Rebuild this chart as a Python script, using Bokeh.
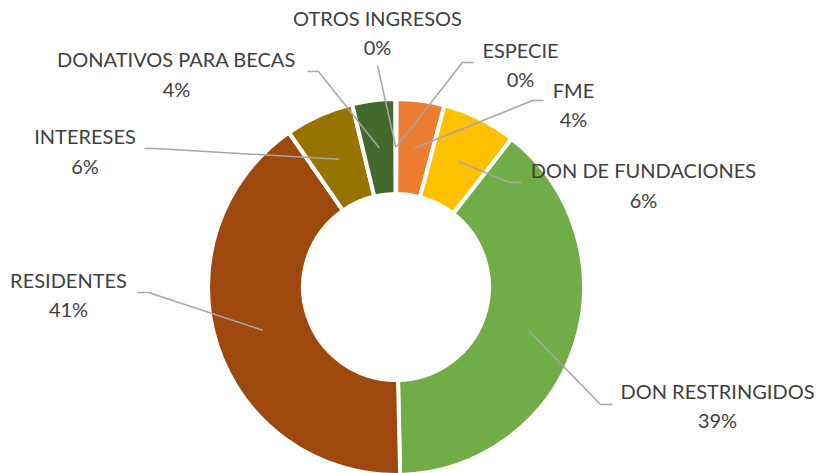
import math
from bokeh.plotting import figure
from bokeh.models import ColumnDataSource, Range1d
from bokeh.embed import file_html
from bokeh.resources import INLINE
from bokeh.core.properties import value

# ---- data ----
categories = ["ESPECIE", "FME", "DON DE FUNDACIONES", "DON RESTRINGIDOS",
              "RESIDENTES", "INTERESES", "DONATIVOS PARA BECAS", "OTROS INGRESOS"]
shares = [0.05, 4.1, 6.4, 39.1, 40.7, 5.9, 3.7, 0.05]
colors = ["#5B9BD5", "#ED7D31", "#FFC000", "#70AD47",
          "#9E480E", "#997300", "#43682B", "#F4B183"]

# ---- layout (pixel coordinates, y measured from top) ----
W, H = 818, 473
CX, CY = 395.5, 286.5
R_OUT, R_IN = 188, 93
R_LEAD = 140
# label centre (x, first-line y), leader start and elbow
label_pos = [(520, 49), (573, 89), (643, 169.5), (717, 390),
             (68, 279), (84.5, 135.5), (176, 58.5), (377, 17)]
leader_start = [(473, 62), (543, 100), (521, 182), (612, 404),
                (137, 292), (144, 148), (307, 71), (377, 65)]
leader_elbow = [(462, 62), (532, 100), (509, 182), (600, 404),
                (148, 292), (155, 148), (318, 71), (377, 65)]
LINE_GAP = 29.5

total = sum(shares)
starts, ends, mids = [], [], []
acc = 0.0
for v in shares:
    a0 = acc / total * 360.0
    acc += v
    a1 = acc / total * 360.0
    starts.append(math.radians(90 - a0))
    ends.append(math.radians(90 - a1))
    mids.append((a0 + a1) / 2)

src = ColumnDataSource(dict(x=[CX] * len(shares), y=[H - CY] * len(shares),
                            start=starts, end=ends, color=colors))

p = figure(width=W, height=H, output_backend="svg", toolbar_location=None,
           x_range=Range1d(0, W), y_range=Range1d(0, H), min_border=0)
p.axis.visible = False
p.grid.visible = False
p.outline_line_color = None
p.background_fill_color = "white"
p.border_fill_color = "white"

p.annular_wedge(x="x", y="y", inner_radius=R_IN, outer_radius=R_OUT,
                start_angle="start", end_angle="end", direction="clock",
                fill_color="color", line_color="white", line_width=4,
                source=src)

xs, ys = [], []
for i, m in enumerate(mids):
    ex = CX + R_LEAD * math.sin(math.radians(m))
    ey = CY - R_LEAD * math.cos(math.radians(m))
    pts = [leader_start[i], leader_elbow[i], (ex, ey)]
    xs.append([q[0] for q in pts])
    ys.append([H - q[1] for q in pts])
p.multi_line(xs=xs, ys=ys, line_color="#A6A6A6", line_width=1.5)

tx, ty, tt = [], [], []
for i, c in enumerate(categories):
    lx, ly = label_pos[i]
    tx += [lx, lx]
    ty += [H - ly, H - ly - LINE_GAP]
    tt += [c, f"{round(shares[i])}%"]
p.text(x=tx, y=ty, text=tt, text_align="center", text_baseline="middle",
       text_font=value("Lato"), text_font_size="20px", text_color="#404040")

open("out.html", "w").write(file_html(p, INLINE))
